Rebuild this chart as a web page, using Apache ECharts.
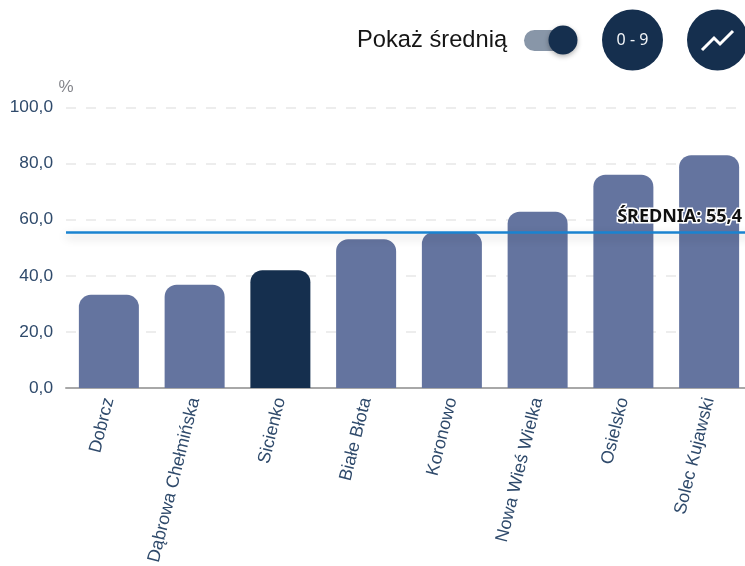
<!DOCTYPE html>
<html>
<head>
<meta charset="utf-8">
<style>html,body{margin:0;padding:0;background:#fff;overflow:hidden;width:745px;height:566px}#c{width:770px;height:600px}</style>
<script src="https://cdn.jsdelivr.net/npm/echarts@6/dist/echarts.min.js"></script>
</head>
<body>
<div id="c"></div>
<script>
const categories = ['Dobrcz','Dąbrowa Chełmińska','Sicienko','Białe Błota','Koronowo','Nowa Wieś Wielka','Osielsko','Solec Kujawski'];
const values = [33.2,36.8,42.0,53.0,55.6,62.8,76.0,83.0];
const highlighted = 'Sicienko';
const average = 55.4;
const yTicks = {min:0,max:100,interval:20};
const fmt = v => v.toFixed(1).replace('.',',');
const chart = echarts.init(document.getElementById('c'),null,{renderer:'canvas'});
const dark = '#152f4e';
chart.setOption({
  animation:false,
  grid:{left:66,top:107.5,width:686,height:280.5,containLabel:false,outerBoundsMode:'none'},
  xAxis:{type:'category',data:categories,
    axisLine:{lineStyle:{color:'#a8a8a8',width:2}},
    axisTick:{alignWithLabel:true,length:6,lineStyle:{color:'#a8a8a8',width:1}},
    axisLabel:{rotate:76,interval:0,margin:10,fontSize:17.8,color:'#2f4a6b',fontFamily:'Liberation Sans'}},
  yAxis:{type:'value',min:yTicks.min,max:yTicks.max,interval:yTicks.interval,
    name:'%',nameLocation:'end',nameGap:12,
    nameTextStyle:{color:'#85868c',fontSize:17,fontFamily:'Liberation Sans',align:'center'},
    axisLine:{show:false},axisTick:{show:false},
    axisLabel:{formatter:fmt,margin:13,fontSize:17.3,color:'#2f4a6b',fontFamily:'Liberation Sans'},
    splitLine:{lineStyle:{color:'#e8e8e8',type:[10,10],width:1.5}}},
  series:[{type:'bar',barWidth:60,
    data:values.map((v,i)=>({value:v,itemStyle:{color:categories[i]===highlighted?dark:'#64749f',borderRadius:[12,12,0,0]}})),
    markLine:{silent:true,symbol:'none',
      lineStyle:{color:'#1a83d0',width:2.5,type:'solid',shadowColor:'rgba(0,0,0,0.22)',shadowBlur:10,shadowOffsetY:4},
      label:{position:'insideEndTop',formatter:()=>'ŚREDNIA: '+fmt(average),fontFamily:'Noto Sans',fontWeight:'bold',fontSize:18,color:'#111',textBorderColor:'#fff',textBorderWidth:3,distance:[10,7]},
      data:[{yAxis:average}]}}],
  graphic:[
    {type:'text',left:357,top:28.5,style:{text:'Pokaż średnią',font:'23.7px "Liberation Sans"',fill:'#151515'}},
    {type:'rect',shape:{x:524,y:30,width:46,height:21,r:10.5},style:{fill:'#8896a8'}},
    {type:'circle',shape:{cx:563,cy:40,r:14.5},style:{fill:dark,shadowColor:'rgba(0,0,0,0.3)',shadowBlur:5,shadowOffsetY:2}},
    {type:'circle',shape:{cx:632.5,cy:40,r:30.5},style:{fill:dark}},
    {type:'text',x:632.5,y:40,style:{text:'0 - 9',font:'16px "Noto Sans"',fill:'#f2f5f8',align:'center',verticalAlign:'middle'}},
    {type:'circle',shape:{cx:717.5,cy:40,r:30.5},style:{fill:dark}},
    {type:'polyline',shape:{points:[[702,50],[714,38],[720,44],[733,31]]},style:{stroke:'#fff',lineWidth:3,fill:null}}
  ]
});
</script>
</body>
</html>
